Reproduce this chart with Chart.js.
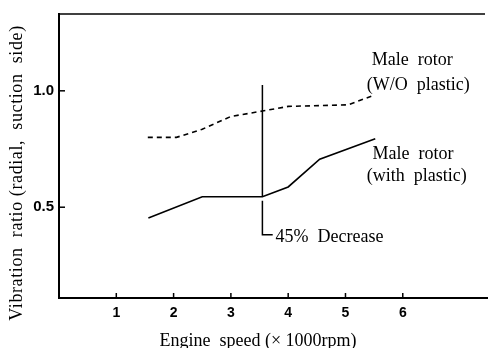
<!DOCTYPE html>
<html>
<head>
<meta charset="utf-8">
<script src="https://cdn.jsdelivr.net/npm/chart.js@4/dist/chart.umd.min.js"></script>
<style>
  html, body { margin: 0; padding: 0; background: #fff; }
  #wrap { width: 489px; height: 348px; }
</style>
</head>
<body>
<div id="wrap"><canvas id="chart" width="489" height="348"></canvas></div>
<script>
// engine speed (x1000 rpm) and vibration ratio
const woPlasticX = [1.55, 2.05, 2.5, 3.0, 3.55, 4.0, 5.05, 5.45];
const woPlasticY = [0.80, 0.80, 0.835, 0.89, 0.913, 0.933, 0.94, 0.977];
const withPlasticX = [1.56, 2.5, 3.55, 4.0, 4.55, 5.52];
const withPlasticY = [0.454, 0.545, 0.545, 0.587, 0.706, 0.794];

const xTicks = [1, 2, 3, 4, 5, 6];
const yTicks = [0.5, 1.0];

const toPoints = (xs, ys) => xs.map((x, i) => ({ x: x, y: ys[i] }));

const serif = '"Liberation Serif", "DejaVu Serif", serif';

// vertical marker + labels, drawn in data coordinates
const overlay = {
  id: 'overlay',
  afterDraw(chart) {
    const { ctx, chartArea: a } = chart;
    const xs = chart.scales.x, ys = chart.scales.y;
    const px = v => xs.getPixelForValue(v);
    const py = v => ys.getPixelForValue(v);
    ctx.save();
    ctx.strokeStyle = '#000';
    ctx.fillStyle = '#000';

    // frame top line
    ctx.lineWidth = 1.5;
    ctx.beginPath();
    ctx.moveTo(a.left, a.top);
    ctx.lineTo(a.right - 2, a.top);
    ctx.stroke();

    // inward tick marks
    yTicks.forEach(v => {
      ctx.beginPath();
      ctx.moveTo(a.left, py(v));
      ctx.lineTo(a.left + 6, py(v));
      ctx.stroke();
    });
    xTicks.forEach(v => {
      ctx.beginPath();
      ctx.moveTo(px(v), a.bottom);
      ctx.lineTo(px(v), a.bottom - 5);
      ctx.stroke();
    });

    // 45% decrease marker
    ctx.beginPath();
    ctx.moveTo(px(3.55), py(1.025));
    ctx.lineTo(px(3.55), py(0.545));
    ctx.moveTo(px(3.55), py(0.528));
    ctx.lineTo(px(3.55), py(0.382));
    ctx.lineTo(px(3.73), py(0.382));
    ctx.stroke();

    ctx.font = '18px ' + serif;
    ctx.textBaseline = 'middle';
    ctx.textAlign = 'left';
    ctx.fillText('Male  rotor', px(5.46), py(1.13));
    ctx.fillText('(W/O  plastic)', px(5.37), py(1.025));
    ctx.fillText('Male  rotor', px(5.47), py(0.727));
    ctx.fillText('(with  plastic)', px(5.37), py(0.634));
    ctx.fillText('45%  Decrease', px(3.78), py(0.37));

    // axis titles
    ctx.font = '18px ' + serif;
    ctx.textAlign = 'center';
    ctx.textBaseline = 'alphabetic';
    ctx.fillText('Engine  speed (× 1000rpm)', 258, 346);

    ctx.translate(22, 173);
    ctx.rotate(-Math.PI / 2);
    ctx.letterSpacing = '0.6px';
    ctx.fillText('Vibration  ratio (radial,  suction  side)', 0, 0);
    ctx.restore();
  }
};

new Chart(document.getElementById('chart').getContext('2d'), {
  type: 'line',
  data: {
    datasets: [
      {
        label: 'Male rotor (W/O plastic)',
        data: toPoints(woPlasticX, woPlasticY),
        borderColor: '#000',
        borderWidth: 1.6,
        borderDash: [5, 4],
        pointRadius: 0,
        tension: 0,
        fill: false
      },
      {
        label: 'Male rotor (with plastic)',
        data: toPoints(withPlasticX, withPlasticY),
        borderColor: '#000',
        borderWidth: 1.6,
        pointRadius: 0,
        tension: 0,
        fill: false
      }
    ]
  },
  options: {
    responsive: false,
    animation: false,
    layout: { padding: { top: 8, right: 2, left: 0, bottom: 0 } },
    plugins: { legend: { display: false }, tooltip: { enabled: false } },
    scales: {
      x: {
        type: 'linear',
        min: 0,
        max: 7.47,
        afterBuildTicks: s => { s.ticks = xTicks.map(v => ({ value: v })); },
        afterFit: s => { s.height = 50; },
        grid: { display: false, drawTicks: false },
        border: { display: true, color: '#000', width: 2 },
        ticks: {
          padding: 7,
          color: '#000',
          font: { family: '"Liberation Sans", Arial, sans-serif', size: 14, weight: 'bold' },
          callback: v => String(v)
        }
      },
      y: {
        type: 'linear',
        min: 0.11,
        max: 1.33,
        afterBuildTicks: s => { s.ticks = yTicks.map(v => ({ value: v })); },
        afterFit: s => { s.width = 59; },
        grid: { display: false, drawTicks: false },
        border: { display: true, color: '#000', width: 2 },
        ticks: {
          padding: 5,
          color: '#000',
          font: { family: '"Liberation Sans", Arial, sans-serif', size: 15, weight: 'bold' },
          callback: v => v.toFixed(1)
        }
      }
    }
  },
  plugins: [overlay]
});
</script>
</body>
</html>
